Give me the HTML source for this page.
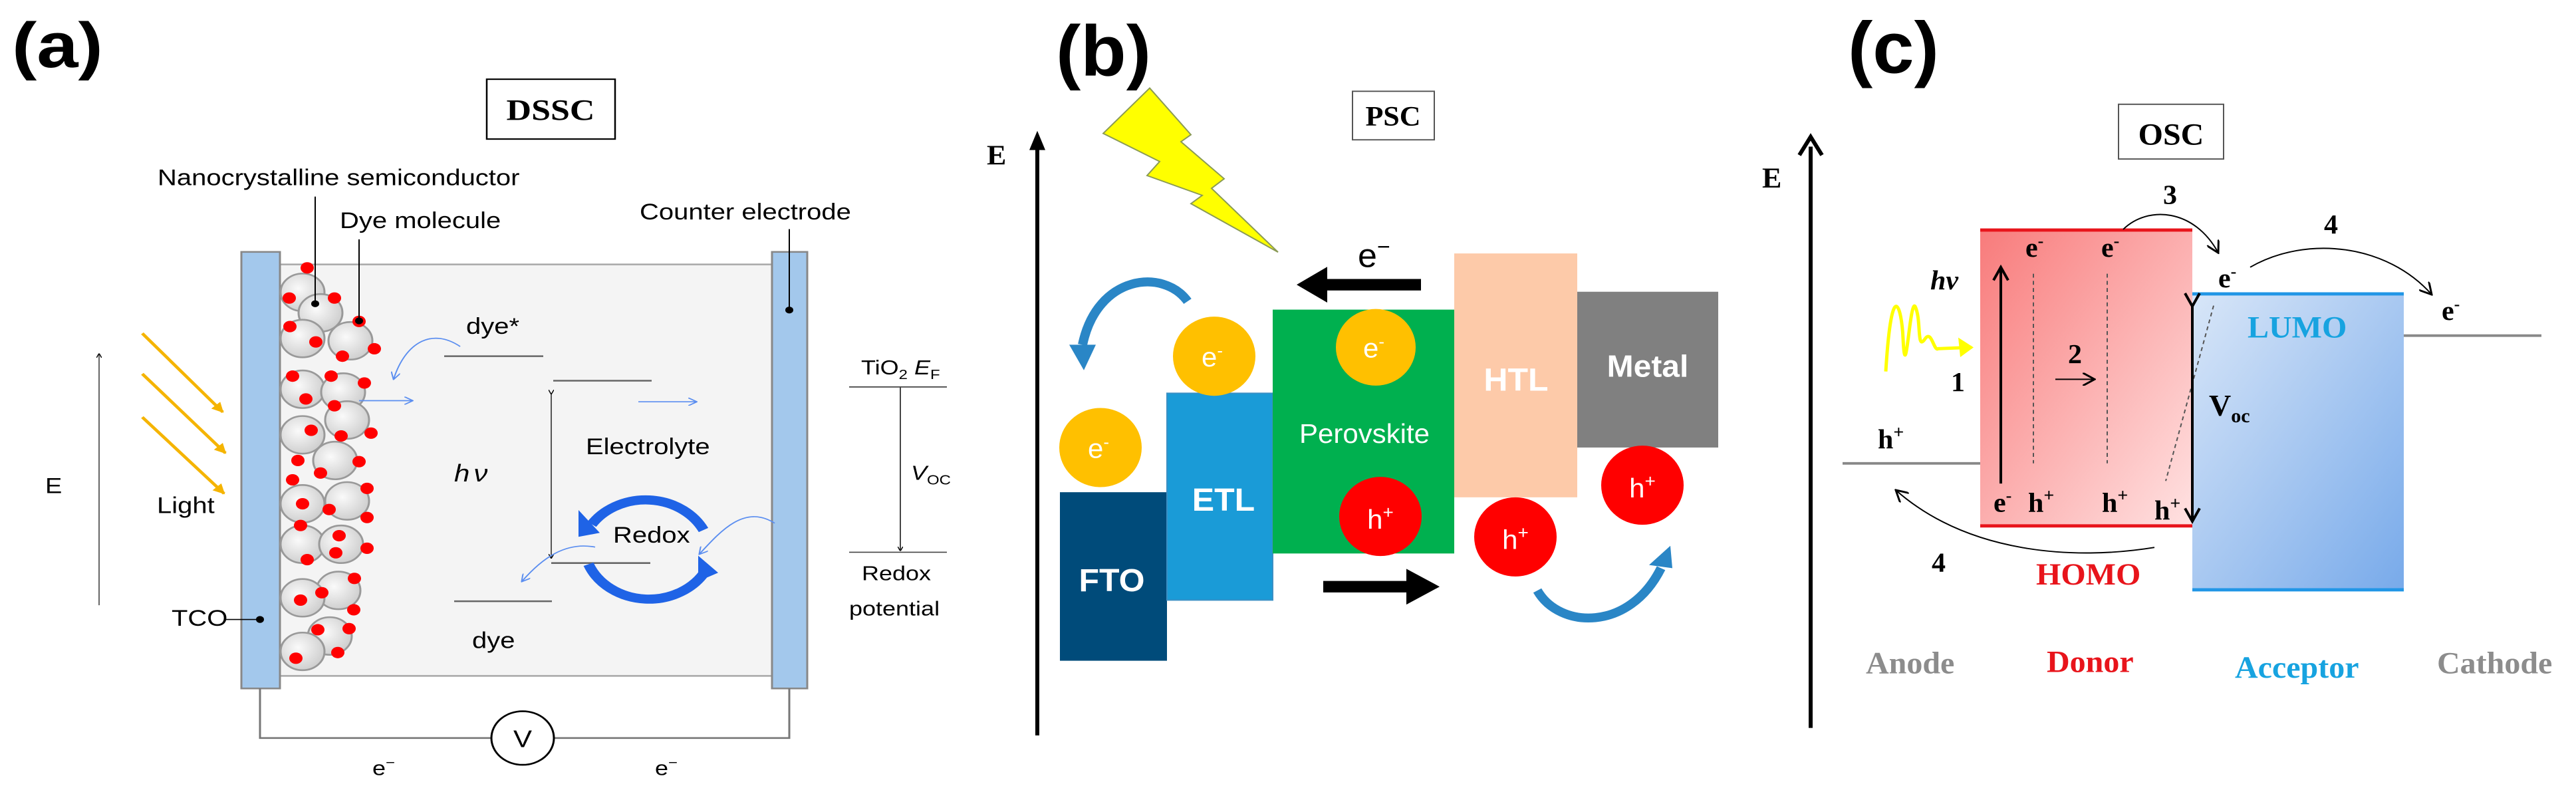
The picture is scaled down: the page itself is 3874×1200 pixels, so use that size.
<!DOCTYPE html>
<html><head><meta charset="utf-8"><style>
html,body{margin:0;padding:0;background:#fff;overflow:hidden;}
svg{display:block;}
.s{font-family:"Liberation Sans",sans-serif;}
.r{font-family:"Liberation Serif",serif;}
</style></head><body>
<svg width="3874" height="1200" viewBox="0 0 3874 1200" xmlns="http://www.w3.org/2000/svg">
<defs>
<radialGradient id="pg" cx="0.4" cy="0.4" r="0.6"><stop offset="0" stop-color="#fafafa"/><stop offset="1" stop-color="#d0d0d0"/></radialGradient>
<linearGradient id="dg" x1="0" y1="0" x2="1" y2="1"><stop offset="0" stop-color="#f87b7b"/><stop offset="1" stop-color="#ffe2e2"/></linearGradient>
<linearGradient id="ag" x1="0" y1="0" x2="1" y2="1"><stop offset="0" stop-color="#d8e6f8"/><stop offset="1" stop-color="#78aaea"/></linearGradient>
<marker id="ak" markerWidth="8" markerHeight="8" refX="6" refY="4" orient="auto" markerUnits="userSpaceOnUse"><path d="M0,0 L8,4 L0,8" fill="none" stroke="#000" stroke-width="1.5"/></marker>
<marker id="ab" markerWidth="14" markerHeight="14" refX="12" refY="7" orient="auto" markerUnits="userSpaceOnUse"><path d="M0,0 L13,7 L0,14" fill="none" stroke="#5b8ef0" stroke-width="2"/></marker>
<marker id="ay" markerWidth="18" markerHeight="18" refX="16" refY="9" orient="auto" markerUnits="userSpaceOnUse"><path d="M0,0 L18,9 L0,18 Z" fill="#f5b400"/></marker>
<marker id="ak2" markerWidth="20" markerHeight="20" refX="18" refY="10" orient="auto" markerUnits="userSpaceOnUse"><path d="M0,0 L18,10 L0,20" fill="none" stroke="#000" stroke-width="3"/></marker>
<marker id="ak3" markerWidth="26" markerHeight="26" refX="22" refY="13" orient="auto" markerUnits="userSpaceOnUse"><path d="M2,2 L22,13 L2,24" fill="none" stroke="#000" stroke-width="4"/></marker>
</defs>

<!-- ================= Panel (a) ================= -->
<g transform="scale(1,0.857)">
<text x="18" y="118" class="s" font-size="112" font-weight="bold">(a)</text>
<rect x="732" y="139" width="193" height="105" fill="#fff" stroke="#000" stroke-width="2.5"/>
<text x="828" y="210" class="r" font-size="52" font-weight="bold" text-anchor="middle">DSSC</text>

<rect x="421" y="464" width="740" height="722" fill="#f4f4f4" stroke="#aaa" stroke-width="3"/>
<rect x="363" y="442" width="58" height="766" fill="#a3c8ec" stroke="#888" stroke-width="3"/>
<rect x="1161" y="442" width="53" height="766" fill="#a3c8ec" stroke="#888" stroke-width="3"/>

<path d="M391,1208 V1295 H739 M833,1295 H1187 V1208" fill="none" stroke="#777" stroke-width="3"/>
<circle cx="786" cy="1295" r="47" fill="#fff" stroke="#000" stroke-width="3"/>
<text x="786" y="1311" class="s" font-size="42" text-anchor="middle">V</text>
<text x="560" y="1360" class="s" font-size="36">e<tspan font-size="24" dy="-14">−</tspan></text>
<text x="985" y="1360" class="s" font-size="36">e<tspan font-size="24" dy="-14">−</tspan></text>

<line x1="149" y1="1062" x2="149" y2="622" stroke="#666" stroke-width="2" marker-end="url(#ak)"/>
<text x="68" y="865" class="s" font-size="38">E</text>

<line x1="214" y1="585" x2="335" y2="723" stroke="#f5b400" stroke-width="5" marker-end="url(#ay)"/>
<line x1="214" y1="656" x2="339" y2="795" stroke="#f5b400" stroke-width="5" marker-end="url(#ay)"/>
<line x1="214" y1="732" x2="337" y2="866" stroke="#f5b400" stroke-width="5" marker-end="url(#ay)"/>
<text x="236" y="900" class="s" font-size="40">Light</text>
<text x="258" y="1098" class="s" font-size="40">TCO</text>
<line x1="338" y1="1087" x2="391" y2="1087" stroke="#000" stroke-width="2"/>
<circle cx="391" cy="1087" r="6" fill="#000"/>

<g stroke="#999" stroke-width="3" fill="url(#pg)">
<circle cx="455" cy="513" r="33"/><circle cx="482" cy="549" r="33"/><circle cx="455" cy="594" r="33"/><circle cx="527" cy="598" r="33"/>
<circle cx="455" cy="683" r="33"/><circle cx="516" cy="688" r="33"/><circle cx="522" cy="737" r="33"/><circle cx="455" cy="763" r="33"/>
<circle cx="504" cy="808" r="33"/><circle cx="455" cy="884" r="33"/><circle cx="522" cy="879" r="33"/><circle cx="455" cy="955" r="33"/>
<circle cx="513" cy="955" r="33"/><circle cx="509" cy="1036" r="33"/><circle cx="455" cy="1049" r="33"/><circle cx="496" cy="1116" r="33"/><circle cx="455" cy="1143" r="33"/>
</g>
<g fill="#f00">
<circle cx="462" cy="470" r="10"/><circle cx="435" cy="523" r="10"/><circle cx="503" cy="523" r="10"/><circle cx="436" cy="573" r="10"/><circle cx="475" cy="600" r="10"/><circle cx="540" cy="564" r="10"/><circle cx="515" cy="625" r="10"/><circle cx="563" cy="612" r="10"/>
<circle cx="440" cy="660" r="10"/><circle cx="498" cy="660" r="10"/><circle cx="548" cy="672" r="10"/><circle cx="460" cy="700" r="10"/><circle cx="503" cy="712" r="10"/>
<circle cx="468" cy="755" r="10"/><circle cx="513" cy="765" r="10"/><circle cx="558" cy="760" r="10"/><circle cx="448" cy="808" r="10"/><circle cx="482" cy="830" r="10"/><circle cx="540" cy="810" r="10"/>
<circle cx="440" cy="842" r="10"/><circle cx="455" cy="884" r="10"/><circle cx="495" cy="894" r="10"/><circle cx="552" cy="857" r="10"/><circle cx="552" cy="908" r="10"/>
<circle cx="452" cy="922" r="10"/><circle cx="510" cy="940" r="10"/><circle cx="505" cy="970" r="10"/><circle cx="552" cy="962" r="10"/><circle cx="462" cy="982" r="10"/>
<circle cx="452" cy="1053" r="10"/><circle cx="484" cy="1040" r="10"/><circle cx="533" cy="1015" r="10"/><circle cx="532" cy="1070" r="10"/>
<circle cx="445" cy="1155" r="10"/><circle cx="478" cy="1105" r="10"/><circle cx="525" cy="1103" r="10"/><circle cx="508" cy="1145" r="10"/>
</g>
<line x1="474" y1="345" x2="474" y2="533" stroke="#000" stroke-width="2"/><circle cx="474" cy="533" r="6" fill="#000"/>
<line x1="540" y1="420" x2="540" y2="563" stroke="#000" stroke-width="2"/><circle cx="540" cy="563" r="6" fill="#000"/>
<line x1="1187" y1="402" x2="1187" y2="544" stroke="#000" stroke-width="2"/><circle cx="1187" cy="544" r="6" fill="#000"/>
<text x="237" y="325" class="s" font-size="40">Nanocrystalline semiconductor</text>
<text x="511" y="400" class="s" font-size="40">Dye molecule</text>
<text x="962" y="385" class="s" font-size="40">Counter electrode</text>

<g stroke="#666" stroke-width="3">
<line x1="668" y1="625" x2="817" y2="625"/><line x1="832" y1="668" x2="980" y2="668"/>
<line x1="829" y1="988" x2="978" y2="988"/><line x1="683" y1="1055" x2="830" y2="1055"/>
</g>
<line x1="829" y1="690" x2="829" y2="978" stroke="#555" stroke-width="2" marker-start="url(#ak)" marker-end="url(#ak)"/>
<text x="701" y="586" class="s" font-size="40">dye*</text>
<text x="683" y="845" class="s" font-size="42" font-style="italic">h<tspan dx="6">ν</tspan></text>
<text x="881" y="797" class="s" font-size="40">Electrolyte</text>
<text x="922" y="952" class="s" font-size="40">Redox</text>
<text x="710" y="1137" class="s" font-size="40">dye</text>

<g stroke="#5b8ef0" stroke-width="2" fill="none">
<path d="M692,608 C650,575 610,600 592,665" marker-end="url(#ab)"/>
<line x1="540" y1="703" x2="620" y2="703" marker-end="url(#ab)"/>
<line x1="960" y1="705" x2="1047" y2="705" marker-end="url(#ab)"/>
<path d="M895,960 C850,950 815,980 785,1020" marker-end="url(#ab)"/>
<path d="M1165,918 C1120,885 1085,930 1052,972" marker-end="url(#ab)"/>
</g>
<g stroke="#1f63e6" stroke-width="16" fill="none">
<path d="M1058,930 A98,98 0 0 0 890,920"/>
<path d="M885,990 A98,98 0 0 0 1062,1000"/>
</g>
<polygon points="870,895 902,935 870,942" fill="#1f63e6"/>
<polygon points="1050,975 1080,1005 1050,1020" fill="#1f63e6"/>

<line x1="1277" y1="679" x2="1424" y2="679" stroke="#444" stroke-width="2"/>
<line x1="1277" y1="969" x2="1424" y2="969" stroke="#444" stroke-width="2"/>
<line x1="1354" y1="679" x2="1354" y2="965" stroke="#444" stroke-width="2" marker-end="url(#ak)"/>
<text x="1295" y="657" class="s" font-size="36">TiO<tspan font-size="24" dy="8">2</tspan><tspan dy="-8" font-style="italic"> E</tspan><tspan font-size="24" dy="8">F</tspan></text>
<text x="1370" y="842" class="s" font-size="36" font-style="italic">V<tspan font-size="24" dy="8" font-style="normal">OC</tspan></text>
<text x="1296" y="1018" class="s" font-size="36">Redox</text>
<text x="1277" y="1080" class="s" font-size="36">potential</text>
</g>

<!-- ================= Panel (b) ================= -->
<g transform="scale(1,0.96)">
<text x="1588" y="118" class="s" font-size="112" font-weight="bold">(b)</text>
<rect x="2034" y="143" width="123" height="76" fill="#fff" stroke="#555" stroke-width="2"/>
<text x="2095" y="197" class="r" font-size="44" font-weight="bold" text-anchor="middle">PSC</text>
<text x="1484" y="258" class="r" font-size="44" font-weight="bold">E</text>
<line x1="1560" y1="1152" x2="1560" y2="225" stroke="#000" stroke-width="6"/>
<polygon points="1560,205 1548,235 1572,235" fill="#000"/>

<polygon points="1659,209 1729,138 1791,211 1776,222 1841,280 1822,295 1922,395 1791,319 1808,306 1725,275 1744,253" fill="#ffff00" stroke="#8a9a55" stroke-width="2"/>

<rect x="1594" y="771" width="161" height="264" fill="#004b7a"/>
<rect x="1755" y="616" width="159" height="324" fill="#1a9bd7" stroke="#3a8fc4" stroke-width="2"/>
<rect x="1914" y="485" width="273" height="382" fill="#00b04f"/>
<rect x="2187" y="397" width="185" height="382" fill="#fdcaa9"/>
<rect x="2372" y="457" width="212" height="244" fill="#808080"/>
<text x="1672" y="926" class="s" font-size="50" font-weight="bold" fill="#fff" text-anchor="middle">FTO</text>
<text x="1840" y="800" class="s" font-size="50" font-weight="bold" fill="#fff" text-anchor="middle">ETL</text>
<text x="2052" y="694" class="s" font-size="42" fill="#fff" text-anchor="middle">Perovskite</text>
<text x="2280" y="612" class="s" font-size="50" font-weight="bold" fill="#fff" text-anchor="middle">HTL</text>
<text x="2478" y="590" class="s" font-size="48" font-weight="bold" fill="#fff" text-anchor="middle">Metal</text>

<g fill="#ffc000"><circle cx="1655" cy="701" r="62"/><circle cx="1826" cy="558" r="62"/><circle cx="2069" cy="544" r="60"/></g>
<g fill="#f00"><circle cx="2076" cy="809" r="62"/><circle cx="2279" cy="841" r="62"/><circle cx="2470" cy="760" r="62"/></g>
<g class="s" font-size="42" fill="#fff" text-anchor="middle">
<text x="1652" y="717">e<tspan font-size="26" dy="-16">-</tspan></text>
<text x="1823" y="574">e<tspan font-size="26" dy="-16">-</tspan></text>
<text x="2066" y="560">e<tspan font-size="26" dy="-16">-</tspan></text>
<text x="2076" y="828">h<tspan font-size="28" dy="-16">+</tspan></text>
<text x="2279" y="860">h<tspan font-size="28" dy="-16">+</tspan></text>
<text x="2470" y="779">h<tspan font-size="28" dy="-16">+</tspan></text>
</g>
<rect x="1990" y="437" width="147" height="18" fill="#000"/><polygon points="1950,446 1996,418 1996,474" fill="#000"/>
<text x="2042" y="418" class="s" font-size="52">e<tspan font-size="34" dy="-20">−</tspan></text>
<rect x="1990" y="910" width="135" height="18" fill="#000"/><polygon points="2165,919 2115,891 2115,947" fill="#000"/>
<path d="M1786,472 C1750,420 1650,430 1628,540" fill="none" stroke="#2a86c6" stroke-width="14"/>
<polygon points="1608,540 1648,540 1630,580" fill="#2a86c6"/>
<path d="M2312,925 C2345,985 2450,990 2498,890" fill="none" stroke="#2a86c6" stroke-width="14"/>
<polygon points="2480,885 2515,890 2512,855" fill="#2a86c6"/>
</g>

<!-- ================= Panel (c) ================= -->
<g transform="scale(1,0.98)">
<text x="2779" y="112" class="s" font-size="112" font-weight="bold">(c)</text>
<rect x="3186" y="160" width="158" height="84" fill="#fff" stroke="#555" stroke-width="2"/>
<text x="3265" y="222" class="r" font-size="48" font-weight="bold" text-anchor="middle">OSC</text>
<text x="2650" y="288" class="r" font-size="44" font-weight="bold">E</text>
<line x1="2723" y1="1117" x2="2723" y2="225" stroke="#000" stroke-width="6"/>
<path d="M2706,238 L2723,210 L2740,238" fill="none" stroke="#000" stroke-width="6"/>

<line x1="2771" y1="711" x2="2978" y2="711" stroke="#888" stroke-width="4"/>
<line x1="3615" y1="515" x2="3822" y2="515" stroke="#888" stroke-width="4"/>
<rect x="2978" y="351" width="319" height="457" fill="url(#dg)"/>
<line x1="2978" y1="353" x2="3297" y2="353" stroke="#e8141b" stroke-width="5"/>
<line x1="2978" y1="807" x2="3297" y2="807" stroke="#e8141b" stroke-width="5"/>
<rect x="3297" y="451" width="318" height="455" fill="url(#ag)"/>
<line x1="3297" y1="451" x2="3615" y2="451" stroke="#2196e6" stroke-width="5"/>
<line x1="3297" y1="905" x2="3615" y2="905" stroke="#2196e6" stroke-width="5"/>

<g stroke="#555" stroke-width="2" stroke-dasharray="6,5">
<line x1="3058" y1="420" x2="3058" y2="711"/><line x1="3169" y1="420" x2="3169" y2="711"/>
<line x1="3329" y1="469" x2="3257" y2="738"/>
</g>
<line x1="3009" y1="742" x2="3009" y2="410" stroke="#000" stroke-width="4" marker-end="url(#ak3)"/>
<line x1="3297" y1="470" x2="3297" y2="800" stroke="#000" stroke-width="4" marker-start="url(#ak3)" marker-end="url(#ak3)"/>
<line x1="3091" y1="582" x2="3150" y2="582" stroke="#000" stroke-width="2" marker-end="url(#ak2)"/>
<path d="M3193,352 C3230,315 3300,320 3336,388" fill="none" stroke="#000" stroke-width="2" marker-end="url(#ak2)"/>
<path d="M3384,410 C3470,360 3590,375 3657,452" fill="none" stroke="#000" stroke-width="2" marker-end="url(#ak2)"/>
<path d="M3240,840 C3120,860 2960,850 2851,752" fill="none" stroke="#000" stroke-width="2" marker-end="url(#ak2)"/>
<path d="M2836,570 C2845,420 2860,470 2862,520 C2866,600 2872,460 2880,470 C2890,490 2882,540 2895,520 C2905,505 2908,540 2915,535 L2965,533" fill="none" stroke="#ffff00" stroke-width="5"/>
<polygon points="2968,533 2945,518 2948,548" fill="#ffff00"/>

<g class="r" font-weight="bold" font-size="42" fill="#000">
<text x="3046" y="394">e<tspan font-size="26" dy="-16">-</tspan></text>
<text x="3160" y="394">e<tspan font-size="26" dy="-16">-</tspan></text>
<text x="3336" y="441">e<tspan font-size="26" dy="-16">-</tspan></text>
<text x="3672" y="491">e<tspan font-size="26" dy="-16">-</tspan></text>
<text x="2998" y="785">e<tspan font-size="26" dy="-16">-</tspan></text>
<text x="3050" y="785">h<tspan font-size="28" dy="-16">+</tspan></text>
<text x="3161" y="785">h<tspan font-size="28" dy="-16">+</tspan></text>
<text x="3240" y="797">h<tspan font-size="28" dy="-16">+</tspan></text>
<text x="2824" y="688">h<tspan font-size="28" dy="-16">+</tspan></text>
<text x="3253" y="313">3</text>
<text x="3495" y="358">4</text>
<text x="3110" y="557">2</text>
<text x="2934" y="600">1</text>
<text x="2905" y="877">4</text>
<text x="2903" y="444" font-style="italic">hν</text>
<text x="3322" y="638" font-size="46">V<tspan font-size="30" dy="10">oc</tspan></text>
</g>
<g class="r" font-weight="bold" font-size="48">
<text x="3380" y="518" fill="#17a3e0">LUMO</text>
<text x="3062" y="897" fill="#e8141b">HOMO</text>
<text x="2806" y="1033" fill="#8c8c8c">Anode</text>
<text x="3078" y="1031" fill="#e8141b">Donor</text>
<text x="3361" y="1040" fill="#17a3e0">Acceptor</text>
<text x="3665" y="1033" fill="#8c8c8c">Cathode</text>
</g>
</g>
</svg>
</body></html>
